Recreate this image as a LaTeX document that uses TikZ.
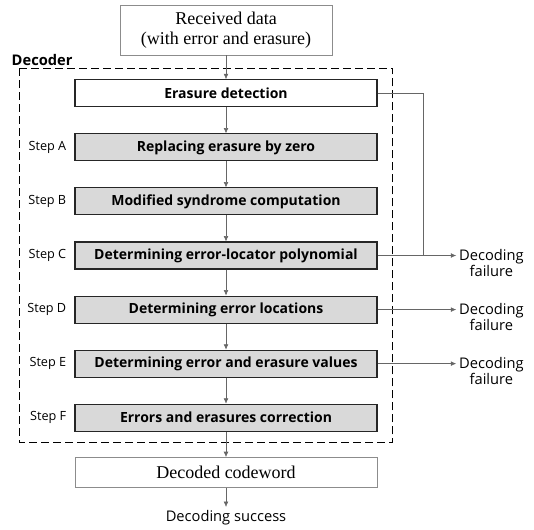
\documentclass[tikz,border=0pt]{standalone}
\usepackage{fontspec}
\setmainfont{Liberation Serif}
\setsansfont{Open Sans}
\usetikzlibrary{positioning,arrows.meta}

\begin{document}
\begin{tikzpicture}[font=\sffamily,node distance=19.5pt and 5pt,
    io/.style={draw=black!45,fill=white,minimum width=226.5pt,inner sep=2pt,align=center,font=\rmfamily\fontsize{13.5}{15}\selectfont},
    stage/.style={draw=black!85,line width=0.8pt,fill=black!15,minimum width=226.5pt,minimum height=20.25pt,inner sep=1pt,font=\sffamily\bfseries\fontsize{10.5}{12}\selectfont},
    steplabel/.style={inner sep=1pt,font=\sffamily\fontsize{9.5}{11}\selectfont},
    outcome/.style={inner sep=2pt,align=center,font=\sffamily\fontsize{11}{12.5}\selectfont},
    arr/.style={draw=black!60,-{Latex[length=4pt,width=3.5pt]}}]
    \useasboundingbox (0,0) rectangle (400.5pt,-396.75pt);

    \node[io,minimum width=159pt,minimum height=37.5pt] (received) at (169.5pt,-22.5pt) {Received data\\(with error and erasure)};
    \node[stage,fill=white] (erase) [below=18pt of received] {Erasure detection};
    \node[stage] (stepA) [below=of erase] {Replacing erasure by zero};
    \node[stage] (stepB) [below=of stepA] {Modified syndrome computation};
    \node[stage] (stepC) [below=of stepB] {Determining error-locator polynomial};
    \node[stage] (stepD) [below=of stepC] {Determining error locations};
    \node[stage] (stepE) [below=of stepD] {Determining error and erasure values};
    \node[stage] (stepF) [below=of stepE] {Errors and erasures correction};
    \node[io,minimum height=22.5pt] (decoded) [below=19pt of stepF] {Decoded codeword};
    \node[outcome] (success) [below=14.5pt of decoded] {Decoding success};

    % step names on the left
    \foreach \s in {A,B,C,D,E,F}
        \node[steplabel] (lab\s) [left=of step\s] {Step \s};

    % failure exits on the right
    \foreach \s in {C,D,E}
        \node[outcome,anchor=west] (fail\s) [right=59pt of step\s,yshift=-5.5pt] {Decoding\\failure};

    % decoder frame
    \coordinate (frameNW) at ([xshift=-41.25pt,yshift=8.25pt]erase.north west);
    \coordinate (frameSE) at ([xshift=11.25pt,yshift=-8.25pt]stepF.south east);
    \draw[dashed,line width=0.8pt,dash pattern=on 6pt off 3pt] (frameNW) rectangle (frameSE);
    \node[anchor=south west,inner sep=0pt,font=\sffamily\bfseries\fontsize{11}{13}\selectfont] (decoder) at ([xshift=-6pt,yshift=2pt]frameNW) {Decoder};

    % main flow
    \foreach \a/\b in {received/erase,erase/stepA,stepA/stepB,stepB/stepC,stepC/stepD,stepD/stepE,stepE/stepF,stepF/decoded,decoded/success}
        \draw[arr] (\a) -- (\b);

    \foreach \s in {C,D,E}
        \draw[arr] (step\s.east) -- (step\s.east -| fail\s.west);
    \coordinate[right=34.5pt of stepC.east] (jct);
    \draw[black!60] (erase.east) -| (jct);
\end{tikzpicture}
\end{document}
